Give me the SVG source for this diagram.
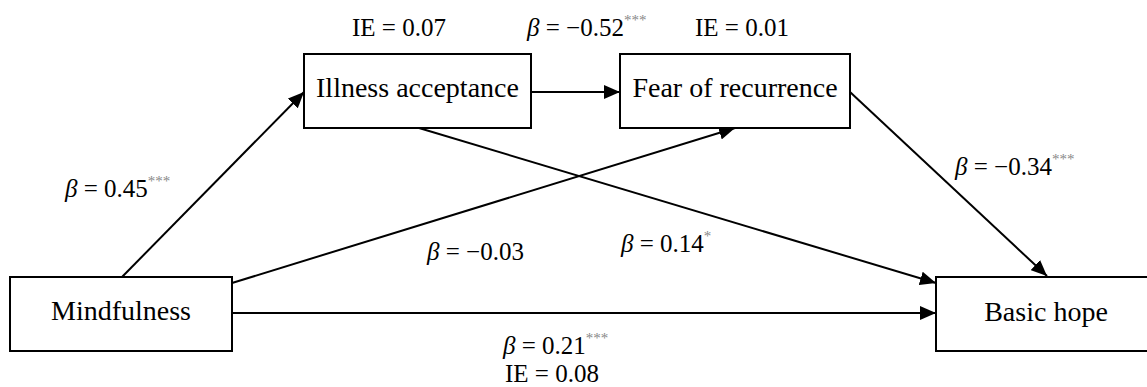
<svg xmlns="http://www.w3.org/2000/svg" width="1147" height="387" viewBox="0 0 1147 387">
<style>
.box{fill:#fff;stroke:#000;stroke-width:2}
.nt{font-family:"Liberation Serif","Times New Roman",serif;font-size:28px;fill:#000;text-anchor:middle}
.lb{font-family:"Liberation Serif","Times New Roman",serif;font-size:25px;fill:#000}
.b{font-style:italic}
.sup{font-size:15px;fill:#888}
.ln{stroke:#000;stroke-width:2;fill:none}
</style>
<defs>
<marker id="ah" markerUnits="userSpaceOnUse" markerWidth="18" markerHeight="14" refX="16" refY="7" orient="auto">
<path d="M0,0 L16,7 L0,14 Z" fill="#000"/>
</marker>
</defs>
<rect width="1147" height="387" fill="#fff"/>
<g id="connectors">
<line class="ln" x1="122" y1="277" x2="304" y2="92" marker-end="url(#ah)"/>
<line class="ln" x1="531" y1="92" x2="620" y2="92" marker-end="url(#ah)"/>
<line class="ln" x1="232" y1="283" x2="735" y2="128" marker-end="url(#ah)"/>
<line class="ln" x1="419" y1="128" x2="936" y2="283" marker-end="url(#ah)"/>
<line class="ln" x1="850" y1="92" x2="1047" y2="276" marker-end="url(#ah)"/>
<line class="ln" x1="232" y1="313" x2="936" y2="313" marker-end="url(#ah)"/>
</g>
<g id="node-mindfulness">
<rect class="box" x="10" y="277" width="222" height="74"/>
<text class="nt" x="121" y="320">Mindfulness</text>
</g>
<g id="node-illness-acceptance">
<rect class="box" x="304" y="54" width="227" height="74"/>
<text class="nt" x="417.5" y="97">Illness acceptance</text>
</g>
<g id="node-fear-of-recurrence">
<rect class="box" x="620" y="54" width="230" height="74"/>
<text class="nt" x="735" y="97">Fear of recurrence</text>
</g>
<g id="node-basic-hope">
<rect class="box" x="936" y="277" width="220" height="74"/>
<text class="nt" x="1046" y="321">Basic hope</text>
</g>
<g id="labels">
<text class="lb" x="352" y="36">IE = 0.07</text>
<text class="lb" x="527" y="36"><tspan class="b">β</tspan> = −0.52<tspan class="sup" dy="-11">***</tspan></text>
<text class="lb" x="695" y="36">IE = 0.01</text>
<text class="lb" x="65" y="197"><tspan class="b">β</tspan> = 0.45<tspan class="sup" dy="-11">***</tspan></text>
<text class="lb" x="955" y="175"><tspan class="b">β</tspan> = −0.34<tspan class="sup" dy="-11">***</tspan></text>
<text class="lb" x="427" y="260"><tspan class="b">β</tspan> = −0.03</text>
<text class="lb" x="621" y="252"><tspan class="b">β</tspan> = 0.14<tspan class="sup" dy="-11">*</tspan></text>
<text class="lb" x="503" y="354"><tspan class="b">β</tspan> = 0.21<tspan class="sup" dy="-11">***</tspan></text>
<text class="lb" x="505" y="382">IE = 0.08</text>
</g>
</svg>
